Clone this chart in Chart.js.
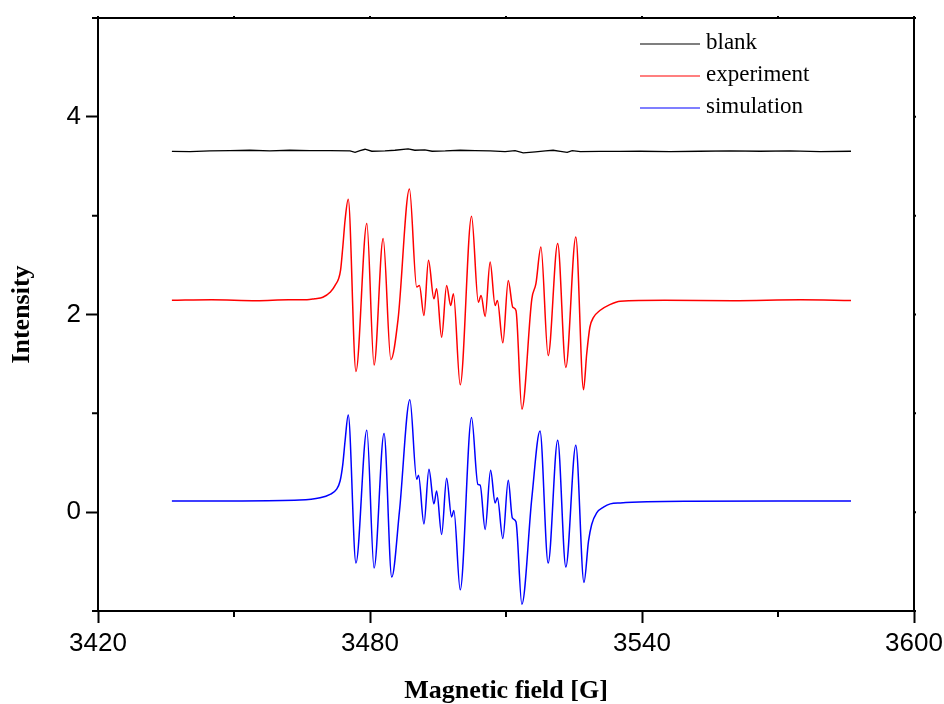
<!DOCTYPE html>
<html lang="en">
<head>
    <meta charset="UTF-8">
    <title>EPR spectrum</title>
    <script src="https://cdn.jsdelivr.net/npm/chart.js"></script>
    <style>
        html, body { margin: 0; padding: 0; background: #fff; }
        #wrap { width: 944px; height: 704px; }
    </style>
</head>
<body>
    <div id="wrap"><canvas id="spectrum" width="944" height="704"></canvas></div>

    <script>
        // Values (field in G, intensity in a.u.)
        const blankField = [3436.3, 3440.3, 3444.7, 3449.1, 3453.5, 3457.9, 3462.3, 3466.7, 3471.2, 3475.6,
            3476.7, 3477.8, 3478.9, 3480.4, 3483.3, 3485.5, 3488.4, 3489.9, 3492.1, 3493.7,
            3496.6, 3499.9, 3503.2, 3506.5, 3509.8, 3512.0, 3513.8, 3516.5, 3518.7, 3520.4,
            3522.0, 3523.5, 3524.6, 3526.4, 3530.7, 3535.2, 3539.6, 3546.2, 3552.8, 3559.5,
            3566.1, 3572.7, 3579.3, 3586.1];
        const blankVals = [3.65, 3.648, 3.655, 3.658, 3.662, 3.655, 3.662, 3.658, 3.658, 3.655,
            3.64, 3.658, 3.672, 3.652, 3.655, 3.662, 3.675, 3.662, 3.665, 3.652,
            3.655, 3.662, 3.658, 3.655, 3.648, 3.658, 3.635, 3.645, 3.655, 3.662,
            3.65, 3.64, 3.658, 3.647, 3.65, 3.65, 3.652, 3.648, 3.652, 3.656,
            3.652, 3.656, 3.648, 3.652];

        const expField = [3436.3, 3445.0, 3455.0, 3462.0, 3466.1, 3467.8, 3469.6, 3471.2, 3472.3, 3473.5,
            3474.0, 3474.5, 3475.2, 3476.9, 3479.3, 3480.9, 3482.9, 3484.6, 3486.2, 3488.7,
            3490.3, 3490.9, 3491.9, 3492.9, 3494.1, 3494.7, 3495.8, 3496.9, 3497.8, 3498.4,
            3499.9, 3502.4, 3503.9, 3504.5, 3505.4, 3506.5, 3507.6, 3508.1, 3509.3, 3510.5,
            3511.5, 3512.2, 3513.5, 3515.7, 3516.6, 3517.7, 3519.3, 3521.4, 3523.2, 3525.4,
            3527.1, 3527.8, 3528.5, 3529.3, 3530.7, 3532.9, 3535.2, 3545.0, 3560.0, 3575.0,
            3586.1];
        const expVals = [2.145, 2.15, 2.14, 2.15, 2.15, 2.16, 2.175, 2.225, 2.294, 2.447,
            2.683, 2.954, 3.165, 1.424, 2.921, 1.489, 2.769, 1.543, 1.956, 3.269,
            2.277, 2.294, 1.99, 2.548, 2.159, 2.261, 1.77, 2.294, 2.091, 2.21,
            1.289, 2.995, 2.125, 2.193, 1.98, 2.531, 2.091, 2.142, 1.713, 2.345,
            2.074, 2.041, 1.043, 2.159, 2.312, 2.683, 1.584, 2.718, 1.465, 2.785,
            1.239, 1.6, 1.871, 1.97, 2.04, 2.10, 2.135, 2.145, 2.14, 2.15,
            2.142];

        const simField = [3436.3, 3450.0, 3464.5, 3469.0, 3471.2, 3472.6, 3473.4, 3474.0, 3474.5, 3475.2,
            3476.9, 3479.3, 3480.9, 3483.1, 3484.8, 3486.5, 3488.8, 3490.3, 3490.7, 3491.9,
            3493.0, 3494.1, 3494.7, 3495.8, 3496.9, 3498.0, 3498.5, 3499.9, 3502.4, 3503.8,
            3504.3, 3505.4, 3506.6, 3507.6, 3508.1, 3509.3, 3510.5, 3511.4, 3512.2, 3513.5,
            3515.7, 3517.5, 3519.3, 3521.4, 3523.2, 3525.4, 3527.2, 3528.2, 3528.9, 3530.0,
            3531.5, 3533.0, 3535.2, 3550.0, 3570.0, 3586.1];
        const simVals = [0.112, 0.113, 0.122, 0.145, 0.18, 0.23, 0.315, 0.484, 0.72, 0.982,
            -0.515, 0.829, -0.565, 0.795, -0.657, 0.01, 1.137, 0.332, 0.373, -0.119,
            0.434, 0.084, 0.213, -0.226, 0.342, -0.048, 0.017, -0.785, 0.957, 0.281,
            0.274, -0.175, 0.423, 0.094, 0.145, -0.267, 0.322, -0.058, -0.098, -0.931,
            0.145, 0.822, -0.515, 0.728, -0.555, 0.677, -0.711, -0.294, -0.125, -0.007,
            0.05, 0.084, 0.094, 0.11, 0.112, 0.112];

        const seriesLabels = ['blank', 'experiment', 'simulation'];
        const seriesColors = ['#000000', '#ff0000', '#0000ff'];

        const xTickLabels = [3420, 3480, 3540, 3600];
        const yTickLabels = [0, 2, 4];

        function toPoints(xs, ys) {
            return xs.map((x, i) => ({ x: x, y: ys[i] }));
        }

        // minor ticks, plot frame and the legend box inside the plot
        const framePlugin = {
            id: 'frame',
            afterDraw(chart) {
                const ctx = chart.ctx;
                const area = chart.chartArea;
                const xs = chart.scales.x;
                const ys = chart.scales.y;
                ctx.save();
                ctx.strokeStyle = '#000';
                ctx.lineWidth = 2;
                ctx.beginPath();
                ctx.moveTo(area.left - 1, area.top);
                ctx.lineTo(area.right, area.top);
                ctx.lineTo(area.right, area.bottom);
                ctx.stroke();

                ctx.beginPath();
                xs.ticks.forEach(t => {
                    const px = xs.getPixelForValue(t.value);
                    if (!xTickLabels.includes(t.value)) {
                        ctx.moveTo(px, area.bottom);
                        ctx.lineTo(px, area.bottom + 6);
                    }
                    ctx.moveTo(px, area.top);
                    ctx.lineTo(px, area.top - 2);
                });
                ys.ticks.forEach(t => {
                    const py = ys.getPixelForValue(t.value);
                    if (!yTickLabels.includes(t.value)) {
                        ctx.moveTo(area.left, py);
                        ctx.lineTo(area.left - 6, py);
                    }
                    ctx.moveTo(area.right, py);
                    ctx.lineTo(area.right + 2, py);
                });
                ctx.stroke();

                // legend
                ctx.font = '23px "Liberation Serif", "Times New Roman", serif';
                ctx.textBaseline = 'middle';
                ctx.fillStyle = '#000';
                chart.data.datasets.forEach((ds, i) => {
                    const y = 44 + i * 32;
                    ctx.strokeStyle = ds.borderColor;
                    ctx.lineWidth = 1.2;
                    ctx.beginPath();
                    ctx.moveTo(640, y);
                    ctx.lineTo(700, y);
                    ctx.stroke();
                    ctx.fillText(ds.label, 706, y - 1);
                });
                ctx.restore();
            }
        };

        function initializeChart() {
            const context = document.getElementById('spectrum').getContext('2d');
            const tickFont = { family: '"Liberation Sans", Arial, sans-serif', size: 26, lineHeight: 1.0 };
            const titleFont = { family: '"Liberation Serif", "Times New Roman", serif', size: 26, weight: 'bold', lineHeight: 1.0 };

            new Chart(context, {
                type: 'line',
                data: {
                    datasets: [
                        {
                            label: seriesLabels[0],
                            data: toPoints(blankField, blankVals),
                            borderColor: seriesColors[0],
                            borderWidth: 1.3,
                            tension: 0
                        },
                        {
                            label: seriesLabels[1],
                            data: toPoints(expField, expVals),
                            borderColor: seriesColors[1],
                            borderWidth: 1.5,
                            cubicInterpolationMode: 'monotone'
                        },
                        {
                            label: seriesLabels[2],
                            data: toPoints(simField, simVals),
                            borderColor: seriesColors[2],
                            borderWidth: 1.5,
                            cubicInterpolationMode: 'monotone'
                        }
                    ]
                },
                options: {
                    responsive: false,
                    animation: false,
                    events: [],
                    layout: { padding: { top: 17, right: 30, left: 0, bottom: 0 } },
                    elements: { point: { radius: 0 } },
                    plugins: {
                        legend: { display: false },
                        tooltip: { enabled: false }
                    },
                    scales: {
                        x: {
                            type: 'linear',
                            min: 3420,
                            max: 3600,
                            afterFit: s => { s.height = 93; s.paddingLeft = 0; s.paddingRight = 0; },
                            ticks: {
                                stepSize: 30,
                                autoSkip: false,
                                maxRotation: 0,
                                padding: 8,
                                color: '#000',
                                font: tickFont,
                                callback: v => xTickLabels.includes(v) ? String(v) : ''
                            },
                            grid: {
                                drawOnChartArea: false,
                                tickLength: 12,
                                tickWidth: 2,
                                tickColor: c => (c.tick && xTickLabels.includes(c.tick.value)) ? '#000' : 'rgba(0,0,0,0)'
                            },
                            border: { display: true, color: '#000', width: 2 },
                            title: {
                                display: true,
                                text: 'Magnetic field [G]',
                                color: '#000',
                                font: titleFont,
                                padding: { top: 0, bottom: 0 }
                            }
                        },
                        y: {
                            min: -1,
                            max: 5,
                            afterFit: s => { s.width = 98; },
                            ticks: {
                                stepSize: 1,
                                autoSkip: false,
                                padding: 5,
                                color: '#000',
                                font: tickFont,
                                callback: v => yTickLabels.includes(v) ? String(v) : ''
                            },
                            grid: {
                                drawOnChartArea: false,
                                tickLength: 12,
                                tickWidth: 2,
                                tickColor: c => (c.tick && yTickLabels.includes(c.tick.value)) ? '#000' : 'rgba(0,0,0,0)'
                            },
                            border: { display: true, color: '#000', width: 2 },
                            title: {
                                display: true,
                                text: 'Intensity',
                                color: '#000',
                                font: titleFont,
                                padding: { top: 9, bottom: 0 }
                            }
                        }
                    }
                },
                plugins: [framePlugin]
            });
        }

        document.addEventListener('DOMContentLoaded', initializeChart);
    </script>
</body>
</html>
